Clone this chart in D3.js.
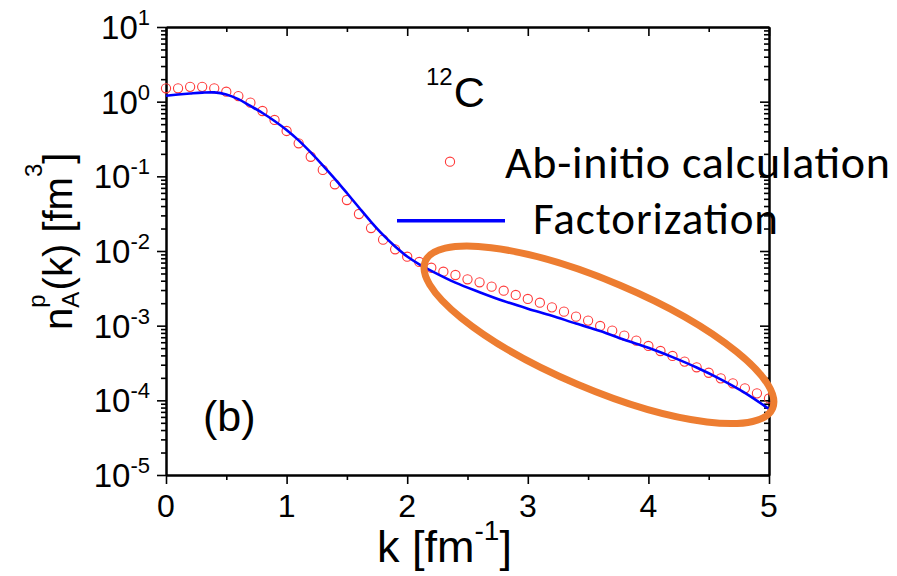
<!DOCTYPE html>
<html>
<head>
<meta charset="utf-8">
<script src="https://cdn.jsdelivr.net/npm/d3@7"></script>
<style>
  html, body { margin: 0; padding: 0; background: #fff; }
  svg { display: block; }
  text { font-family: "Liberation Sans", Arial, sans-serif; fill: #000; }
  .legend { font-family: Carlito, Lato, "Open Sans", sans-serif; }
</style>
</head>
<body>
<svg id="chart" width="897" height="576"></svg>
<script>
// Proton momentum distribution of 12C: ab-initio points vs. factorization curve
const kAbInitio = [0.0, 0.1, 0.2, 0.3, 0.4, 0.5, 0.6, 0.7, 0.8, 0.9,
                   1.0, 1.1, 1.2, 1.3, 1.4, 1.5, 1.6, 1.7, 1.8, 1.9,
                   2.0, 2.1, 2.2, 2.3, 2.4, 2.5, 2.6, 2.7, 2.8, 2.9,
                   3.0, 3.1, 3.2, 3.3, 3.4, 3.5, 3.6, 3.7, 3.8, 3.9,
                   4.0, 4.1, 4.2, 4.3, 4.4, 4.5, 4.6, 4.7, 4.8, 4.9, 5.0];
const nAbInitio = [1.51, 1.51, 1.58, 1.58, 1.51, 1.36, 1.19, 0.97, 0.75, 0.569,
                   0.405, 0.277, 0.183, 0.122, 0.0782, 0.0482, 0.0313, 0.0203, 0.0142, 0.01054,
                   0.00839, 0.00713, 0.00597, 0.00528, 0.00477, 0.00418, 0.00381, 0.00333, 0.00294, 0.00258,
                   0.00228, 0.00203, 0.00176, 0.00154, 0.00132, 0.00117, 0.000991, 0.000857, 0.000735, 0.000630,
                   0.000535, 0.000458, 0.000393, 0.000330, 0.000277, 0.000234, 0.000197, 0.000169, 0.000145, 0.000124, 0.000106];

const kFactor = [0.0, 0.1, 0.2, 0.3, 0.4, 0.5, 0.6, 0.7, 0.8, 0.9,
                 1.0, 1.1, 1.2, 1.3, 1.4, 1.5, 1.6, 1.7, 1.8, 1.9,
                 2.0, 2.1, 2.2, 2.4, 2.6, 2.8, 3.0, 3.2, 3.4, 3.6,
                 3.8, 4.0, 4.2, 4.4, 4.6, 4.8, 5.0];
const nFactor = [1.20, 1.245, 1.285, 1.32, 1.33, 1.25, 1.08, 0.875, 0.705, 0.551,
                 0.4175, 0.303, 0.209, 0.1405, 0.0927, 0.0598, 0.0382, 0.0246, 0.0164, 0.01146,
                 0.00844, 0.00664, 0.00543, 0.00377, 0.00281, 0.00214, 0.00169, 0.00136, 0.001066, 0.000851,
                 0.000647, 0.000506, 0.000379, 0.000275, 0.000191, 0.000126, 0.0000766];

const xTicks = [0, 1, 2, 3, 4, 5];
const xMinorTicks = [0.5, 1.5, 2.5, 3.5, 4.5];
const yExponents = [1, 0, -1, -2, -3, -4, -5];

const seriesNames = ["Ab-initio calculation", "Factorization"];
const nucleusLabel = { mass: "12", symbol: "C" };
const panelLabel = "(b)";

// highlighted region: ends of its long axis in data units, and width ratio
const highlight = { k1: 2.15, n1: 0.00728, k2: 5.03, n2: 0.000078, ratio: 0.286 };

const W = 897, H = 576;
const margin = { left: 166, right: 128, top: 27, bottom: 101 };

const svg = d3.select("#chart");

const x = d3.scaleLinear().domain([0, 5]).range([margin.left, W - margin.right]);
const y = d3.scaleLog().domain([1e-5, 10]).range([H - margin.bottom, margin.top]);

const yMajor = yExponents.map(e => Math.pow(10, e));
const yMinor = [];
for (let e = -5; e < 1; e++) for (let m = 2; m <= 9; m++) yMinor.push(m * Math.pow(10, e));

function styleAxis(g) {
  g.select(".domain").attr("stroke", "#000").attr("stroke-width", 2);
  g.selectAll(".tick line").attr("stroke", "#000").attr("stroke-width", 1.6);
  g.selectAll(".tick text").remove();
}

const x0 = x.range()[0], x1 = x.range()[1];
const y0 = y.range()[0], y1 = y.range()[1];

// bottom axis (ticks outward)
svg.append("g").attr("transform", `translate(0,${y0})`)
  .call(d3.axisBottom(x).tickValues(xTicks).tickSize(9).tickSizeOuter(0).tickFormat(""))
  .call(styleAxis);
svg.append("g").attr("transform", `translate(0,${y0})`)
  .call(d3.axisBottom(x).tickValues(xMinorTicks).tickSize(5).tickSizeOuter(0).tickFormat(""))
  .call(styleAxis);
// top axis (ticks inward)
svg.append("g").attr("transform", `translate(0,${y1})`)
  .call(d3.axisBottom(x).tickValues(xTicks).tickSize(9).tickSizeOuter(0).tickFormat(""))
  .call(styleAxis);
svg.append("g").attr("transform", `translate(0,${y1})`)
  .call(d3.axisBottom(x).tickValues(xMinorTicks).tickSize(5).tickSizeOuter(0).tickFormat(""))
  .call(styleAxis);
// left axis (ticks outward)
svg.append("g").attr("transform", `translate(${x0},0)`)
  .call(d3.axisLeft(y).tickValues(yMajor).tickSize(9).tickSizeOuter(0).tickFormat(""))
  .call(styleAxis);
svg.append("g").attr("transform", `translate(${x0},0)`)
  .call(d3.axisLeft(y).tickValues(yMinor).tickSize(5).tickSizeOuter(0).tickFormat(""))
  .call(styleAxis);
// right axis (ticks inward)
svg.append("g").attr("transform", `translate(${x1},0)`)
  .call(d3.axisLeft(y).tickValues(yMajor).tickSize(9).tickSizeOuter(0).tickFormat(""))
  .call(styleAxis);
svg.append("g").attr("transform", `translate(${x1},0)`)
  .call(d3.axisLeft(y).tickValues(yMinor).tickSize(5).tickSizeOuter(0).tickFormat(""))
  .call(styleAxis);

// y tick labels: 10^e
yExponents.forEach(e => {
  const t = svg.append("text")
    .attr("x", x0 - 16).attr("y", y(Math.pow(10, e)) + 12)
    .attr("text-anchor", "end");
  t.append("tspan").attr("font-size", 33).text("10");
  t.append("tspan").attr("font-size", 22).attr("dy", -14).text(String(e));
});

// x tick labels
svg.append("g").selectAll("text").data(xTicks).join("text")
  .attr("x", d => x(d)).attr("y", 517)
  .attr("text-anchor", "middle").attr("font-size", 32)
  .text(d => d);

// x title: k [fm^-1]
const xt = svg.append("text").attr("x", 377).attr("y", 562).attr("font-size", 45);
xt.append("tspan").text("k [fm");
xt.append("tspan").attr("font-size", 28).attr("dy", -22).text("-1");
xt.append("tspan").attr("dy", 22).text("]");

// y title: n^p_A(k) [fm^3]
const yt = svg.append("text")
  .attr("transform", "translate(72,330) rotate(-90)")
  .attr("font-size", 40);
yt.append("tspan").text("n");
yt.append("tspan").attr("font-size", 24).attr("dy", 7).text("A");
yt.append("tspan").attr("font-size", 24).attr("dx", -16).attr("dy", -34).text("p");
yt.append("tspan").attr("dx", 4).attr("dy", 27).text("(k) [fm");
yt.append("tspan").attr("font-size", 24).attr("dy", -30).text("3");
yt.append("tspan").attr("dy", 30).text("]");

// data: open circles
svg.append("g").selectAll("circle").data(kAbInitio.map((k, i) => [k, nAbInitio[i]]))
  .join("circle")
  .attr("cx", d => x(d[0])).attr("cy", d => y(d[1])).attr("r", 4.6)
  .attr("fill", "none").attr("stroke", "#ff3a3a").attr("stroke-width", 1.1);

// data: factorization line
const line = d3.line().x(d => x(d[0])).y(d => y(d[1])).curve(d3.curveCatmullRom.alpha(0.5));
svg.append("path")
  .datum(kFactor.map((k, i) => [k, nFactor[i]]))
  .attr("d", line)
  .attr("fill", "none").attr("stroke", "#0000ff").attr("stroke-width", 2.6);

// nucleus label
const nl = svg.append("text").attr("x", 426).attr("y", 106.7).attr("font-size", 43);
nl.append("tspan").attr("font-size", 24).attr("dy", -22).text(nucleusLabel.mass);
nl.append("tspan").attr("dx", 1).attr("dy", 22).text(nucleusLabel.symbol);

// panel label
svg.append("text").attr("x", 203).attr("y", 431).attr("font-size", 43).text(panelLabel);

// legend
svg.append("circle").attr("cx", 450).attr("cy", 161.7).attr("r", 4.6)
  .attr("fill", "none").attr("stroke", "#ff3a3a").attr("stroke-width", 1.1);
svg.append("text").attr("class", "legend").attr("x", 505).attr("y", 178.3)
  .attr("font-size", 46).attr("textLength", 385).attr("lengthAdjust", "spacing")
  .text(seriesNames[0]);
svg.append("line").attr("x1", 397).attr("x2", 505).attr("y1", 220.7).attr("y2", 220.7)
  .attr("stroke", "#0000ff").attr("stroke-width", 3.5);
svg.append("text").attr("class", "legend").attr("x", 533).attr("y", 233.5)
  .attr("font-size", 45).attr("textLength", 245).attr("lengthAdjust", "spacing")
  .text(seriesNames[1]);

// highlight ellipse around the high-momentum tail
{
  const ax = x(highlight.k1), ay = y(highlight.n1);
  const bx = x(highlight.k2), by = y(highlight.n2);
  const cx = (ax + bx) / 2, cy = (ay + by) / 2;
  const a = Math.hypot(bx - ax, by - ay) / 2;
  const ang = Math.atan2(by - ay, bx - ax) * 180 / Math.PI;
  svg.append("ellipse")
    .attr("transform", `translate(${cx},${cy}) rotate(${ang})`)
    .attr("rx", a).attr("ry", a * highlight.ratio)
    .attr("fill", "none").attr("stroke", "#ed7d31").attr("stroke-width", 7);
}
</script>
</body>
</html>
